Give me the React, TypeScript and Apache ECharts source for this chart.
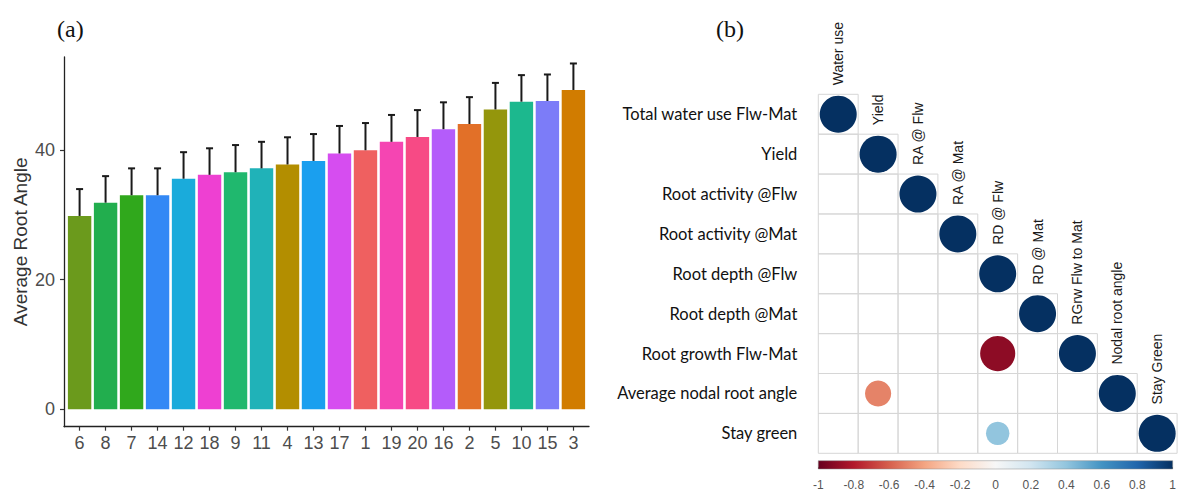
import React, { useEffect, useRef } from "react";
import * as echarts from "echarts";

// ---- Panel (a) data ----
const genotypes = ["6", "8", "7", "14", "12", "18", "9", "11", "4", "13", "17", "1", "19", "20", "16", "2", "5", "10", "15", "3"];
const meanRootAngle = [29.85, 31.9, 33.05, 33.05, 35.6, 36.2, 36.6, 37.2, 37.8, 38.35, 39.5, 40.0, 41.3, 42.05, 43.25, 44.05, 46.3, 47.5, 47.6, 49.3];
const errRootAngle = [4.15, 4.1, 4.15, 4.15, 4.1, 4.1, 4.2, 4.1, 4.2, 4.15, 4.25, 4.2, 4.15, 4.15, 4.15, 4.15, 4.1, 4.1, 4.1, 4.1];
const barColors = ["#6B9A1C", "#22AE4E", "#30A81C", "#3388F5", "#1AABDB", "#EE40D2", "#20B86E", "#20B2B8", "#B38E00", "#1A9FEF", "#D64DF0", "#EF6060", "#F545B2", "#F74A85", "#B45CFA", "#E27028", "#94960C", "#1CB88E", "#7C7CF8", "#D17C00"];
const yTickValues = [0, 20, 40];

// ---- Panel (b) data ----
const rowLabels = ["Total water use Flw-Mat", "Yield", "Root activity @Flw", "Root activity @Mat", "Root depth @Flw", "Root depth @Mat", "Root growth Flw-Mat", "Average nodal root angle", "Stay green"];
const colLabels = ["Water use", "Yield", "RA @ Flw", "RA @ Mat", "RD @ Flw", "RD @ Mat", "RGrw Flw to Mat", "Nodal root angle", "Stay Green"];
// lower triangle (incl. diagonal); null = blank cell
const corrMatrix: (number | null)[][] = [
  [1],
  [null, 1],
  [null, null, 1],
  [null, null, null, 1],
  [null, null, null, null, 1],
  [null, null, null, null, null, 1],
  [null, null, null, null, -0.9, null, 1],
  [null, -0.5, null, null, null, null, null, 1],
  [null, null, null, null, 0.4, null, null, null, 1],
];
const rdbuColors = ["#67001F", "#B2182B", "#D6604D", "#F4A582", "#FDDBC7", "#F7F7F7", "#D1E5F0", "#92C5DE", "#4393C3", "#2166AC", "#053061"];
const colorbarRange = [-1, 1];

export default function App() {
  const ref = useRef<HTMLDivElement>(null);
  useEffect(() => {
    if (!ref.current) return;
    const chart = echarts.init(ref.current, null, { renderer: "svg" });

    const barData = meanRootAngle.map((v, i) => [i, v]);
    const errData = meanRootAngle.map((v, i) => [i, v, v + errRootAngle[i]]);
    const idx = genotypes.map((_, i) => i);

    const cellData: number[][] = [];
    const dotData: number[][] = [];
    corrMatrix.forEach((row, r) => {
      row.forEach((val, c) => {
        cellData.push([c, r]);
        if (val !== null) dotData.push([c, r, val]);
      });
    });
    const labelData = colLabels.map((_, i) => [i, i]);

    const option: any = {
      animation: false,
      backgroundColor: "#ffffff",
      graphic: [
        { type: "text", left: 57, top: 17, style: { text: "(a)", font: '24px "Liberation Serif"', fill: "#111" } },
        { type: "text", left: 716, top: 17, style: { text: "(b)", font: '24px "Liberation Serif"', fill: "#111" } },
      ],
      grid: [
        { left: 64, top: 57, width: 525, height: 369.7 },
        { left: 818.3, top: 94.3, width: 358.8, height: 359 },
        { left: 818.3, top: 460.7, width: 359.7, height: 13.3 },
      ],
      xAxis: [
        {
          gridIndex: 0,
          type: "value",
          min: -0.6,
          max: 19.6,
          splitLine: { show: false },
          axisLine: { show: true, onZero: false, lineStyle: { color: "#222", width: 1.3 } },
          axisTick: { show: true, customValues: idx, length: 4, lineStyle: { color: "#333", width: 1.2 } },
          axisLabel: {
            customValues: idx,
            formatter: (v: number) => genotypes[Math.round(v)],
            fontFamily: '"Liberation Sans", Arial',
            fontSize: 18,
            color: "#4D4D4D",
            margin: 7,
          },
        },
        { gridIndex: 1, type: "category", data: colLabels, show: false },
        {
          gridIndex: 2,
          type: "value",
          min: colorbarRange[0],
          max: colorbarRange[1],
          interval: 0.2,
          splitLine: { show: false },
          axisLine: { show: false },
          axisTick: { show: true, inside: true, length: 2, lineStyle: { color: "#555" } },
          axisLabel: {
            formatter: (v: number) => String(Math.round(v * 10) / 10),
            fontFamily: '"Liberation Sans", Arial',
            fontSize: 12,
            color: "#555",
            margin: 10,
          },
        },
      ],
      yAxis: [
        {
          gridIndex: 0,
          type: "value",
          min: -2.7,
          max: 54.4,
          splitLine: { show: false },
          axisLine: { show: true, onZero: false, lineStyle: { color: "#222", width: 1.3 } },
          axisTick: { show: true, customValues: yTickValues, length: 4, lineStyle: { color: "#333", width: 1.2 } },
          axisLabel: {
            customValues: yTickValues,
            fontFamily: '"Liberation Sans", Arial',
            fontSize: 18,
            color: "#4D4D4D",
            margin: 9,
          },
          name: "Average Root Angle",
          nameLocation: "middle",
          nameRotate: 90,
          nameGap: 34,
          nameTextStyle: { fontFamily: '"Liberation Sans", Arial', fontSize: 19, color: "#333" },
        },
        {
          gridIndex: 1,
          type: "category",
          data: rowLabels,
          inverse: true,
          axisLine: { show: false },
          axisTick: { show: false },
          splitLine: { show: false },
          axisLabel: { fontFamily: "Lato", fontSize: 16.5, color: "#111", margin: 21 },
        },
        { gridIndex: 2, type: "value", min: 0, max: 1, show: false },
      ],
      visualMap: [
        {
          type: "continuous",
          show: false,
          seriesIndex: 3,
          dimension: 2,
          min: -1,
          max: 1,
          inRange: { color: rdbuColors },
        },
      ],
      series: [
        {
          type: "bar",
          xAxisIndex: 0,
          yAxisIndex: 0,
          barWidth: 23.4,
          data: barData,
          itemStyle: { color: (p: any) => barColors[p.dataIndex] },
        },
        {
          type: "custom",
          xAxisIndex: 0,
          yAxisIndex: 0,
          data: errData,
          z: 5,
          renderItem: (params: any, api: any) => {
            const base = api.coord([api.value(0), api.value(1)]);
            const top = api.coord([api.value(0), api.value(2)]);
            const st = { stroke: "#1a1a1a", lineWidth: 2 };
            return {
              type: "group",
              children: [
                { type: "line", shape: { x1: top[0], y1: base[1], x2: top[0], y2: top[1] }, style: st },
                { type: "line", shape: { x1: top[0] - 3.5, y1: top[1], x2: top[0] + 3.5, y2: top[1] }, style: st },
              ],
            };
          },
        },
        {
          type: "custom",
          xAxisIndex: 1,
          yAxisIndex: 1,
          data: cellData,
          z: 1,
          renderItem: (params: any, api: any) => {
            const c = api.coord([api.value(0), api.value(1)]);
            const s = api.size([1, 1]);
            return {
              type: "rect",
              shape: { x: c[0] - s[0] / 2, y: c[1] - s[1] / 2, width: s[0], height: s[1] },
              style: { fill: "none", stroke: "#d6d6d6", lineWidth: 1 },
            };
          },
        },
        {
          type: "scatter",
          xAxisIndex: 1,
          yAxisIndex: 1,
          data: dotData,
          z: 3,
          symbol: "circle",
          itemStyle: { opacity: 1 },
          symbolSize: (v: number[]) => 37 * Math.sqrt(Math.abs(v[2])),
        },
        {
          type: "custom",
          xAxisIndex: 1,
          yAxisIndex: 1,
          data: labelData,
          z: 4,
          renderItem: (params: any, api: any) => {
            const c = api.coord([api.value(0), api.value(1)]);
            const s = api.size([1, 1]);
            return {
              type: "text",
              x: c[0],
              y: c[1] - s[1] / 2 - 9,
              rotation: Math.PI / 2,
              style: {
                text: colLabels[params.dataIndex],
                fontFamily: '"Liberation Sans", Arial',
                fontSize: 14,
                fill: "#1a1a1a",
                align: "left",
                verticalAlign: "middle",
              },
            };
          },
        },
        {
          type: "custom",
          xAxisIndex: 2,
          yAxisIndex: 2,
          data: [[colorbarRange[0], colorbarRange[1]]],
          z: 1,
          renderItem: (params: any, api: any) => {
            const p0 = api.coord([api.value(0), 1]);
            const p1 = api.coord([api.value(1), 0]);
            return {
              type: "rect",
              shape: { x: p0[0], y: p0[1], width: p1[0] - p0[0], height: p1[1] - p0[1] },
              style: {
                fill: new echarts.graphic.LinearGradient(
                  0, 0, 1, 0,
                  rdbuColors.map((c, i) => ({ offset: i / (rdbuColors.length - 1), color: c }))
                ),
                stroke: "#888",
                lineWidth: 0.5,
              },
            };
          },
        },
      ],
    };
    chart.setOption(option);
    return () => chart.dispose();
  }, []);
  return (
    <div
      ref={ref}
      style={{ position: "fixed", left: 0, top: 0, width: 1179, height: 491, background: "#fff" }}
    />
  );
}
